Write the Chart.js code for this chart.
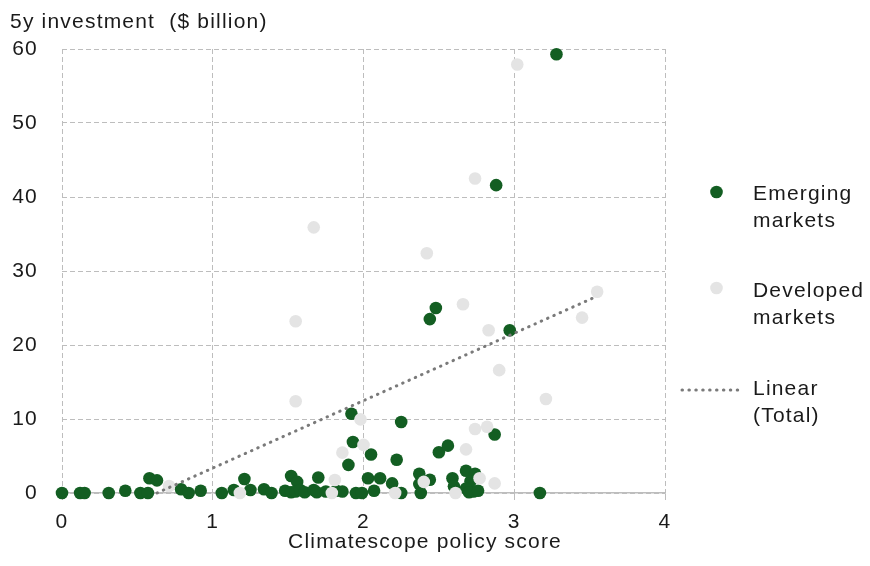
<!DOCTYPE html>
<html>
<head>
<meta charset="utf-8">
<script src="https://cdn.jsdelivr.net/npm/chart.js@4"></script>
<style>
  body { margin: 0; background: #fff; }
  #wrap { position: relative; width: 870px; height: 566px; }
</style>
</head>
<body>
<div id="wrap"><canvas id="chart" width="870" height="566"></canvas></div>
<script>
// values
const emergingX = [0.00, 0.12, 0.15, 0.31, 0.42, 0.52, 0.57, 0.58, 0.63, 0.79, 0.84, 0.92, 1.06, 1.14, 1.21, 1.25, 1.34, 1.39, 1.48, 1.52,
  1.52, 1.56, 1.55, 1.58, 1.61, 1.67, 1.70, 1.69, 1.75, 1.82, 1.86, 1.90, 1.93, 1.92, 1.95, 1.99, 2.03, 2.05, 2.07, 2.11,
  2.19, 2.22, 2.25, 2.25, 2.37, 2.37, 2.38, 2.44, 2.50, 2.56, 2.59, 2.60, 2.68, 2.74, 2.71, 2.73, 2.68, 2.70, 2.76, 2.87,
  3.17, 2.44, 2.48, 2.97, 2.88, 3.28]
const emergingY = [0, 0, 0, 0, 0.3, 0, 0, 2.0, 1.7, 0.5, 0, 0.3, 0, 0.4, 1.9, 0.4, 0.5, 0, 0.3, 2.3,
  0.1, 1.5, 0.2, 0.4, 0.1, 0.4, 2.1, 0.1, 0.2, 0.3, 0.2, 3.8, 6.9, 10.7, 0, 0, 2.0, 5.2, 0.3, 2.0,
  1.3, 4.5, 9.6, 0, 2.6, 1.2, 0, 1.8, 5.5, 6.4, 2.0, 0.9, 3.0, 2.6, 1.6, 0.2, 0.6, 0.1, 0.3, 7.9,
  0, 23.5, 25.0, 22.0, 41.6, 59.3]

const developedX = [0.71, 1.18, 1.55, 1.55, 1.67, 1.79, 1.81, 1.86, 1.98, 2.00, 2.21, 2.40, 2.42, 2.61, 2.66, 2.68, 2.74, 2.74,
  2.77, 2.82, 2.83, 2.87, 2.90, 3.02, 3.21, 3.45, 3.55]
const developedY = [0.95, 0, 23.2, 12.4, 35.9, 0, 1.75, 5.45, 9.95, 6.5, 0, 1.5, 32.4, 0, 25.5, 5.9, 42.5, 8.65,
  2.0, 8.96, 22.0, 1.3, 16.6, 57.9, 12.7, 23.7, 27.2]

// linear trend (Total), clipped at the x axis
const trendX = [0.63, 3.55]
const trendY = [0, 26.6]

const seriesNames = ['Emerging markets', 'Developed markets', 'Linear (Total)']
const legendLines = [['Emerging', 'markets'], ['Developed', 'markets'], ['Linear', '(Total)']]

const green = '#135e22'
const grey = '#e4e4e4'
const trendColor = '#7a7a7a'
const gridColor = '#bdbdbd'
const textColor = '#1a1a1a'
const fontFamily = '"Liberation Sans", Arial, sans-serif'
const spacing = '1.2px'

const toPoints = (xs, ys) => xs.map((x, i) => ({ x: x, y: ys[i] }))

Chart.defaults.font.family = fontFamily
Chart.defaults.font.size = 21
Chart.defaults.color = textColor

const spacingPlugin = {
  id: 'spacing',
  beforeDraw(chart) {
    chart.ctx.letterSpacing = spacing
  }
}

const textPlugin = {
  id: 'sideText',
  afterDraw(chart) {
    const ctx = chart.ctx
    ctx.save()
    ctx.letterSpacing = spacing
    ctx.font = '21px ' + fontFamily
    ctx.fillStyle = textColor
    ctx.textBaseline = 'alphabetic'
    ctx.textAlign = 'left'
    ctx.fillText('5y investment  ($ billion)', 10, 28)
    ctx.textAlign = 'center'
    ctx.fillText('Climatescope policy score', 425, 548)

    // legend on the right
    const rows = [200, 297, 395]
    const marks = [192, 288, 390]
    ctx.textAlign = 'left'
    legendLines.forEach((lines, i) => {
      lines.forEach((t, j) => ctx.fillText(t, 753, rows[i] + j * 27))
    })
    ctx.beginPath()
    ctx.arc(716.5, marks[0], 6.3, 0, Math.PI * 2)
    ctx.fillStyle = green
    ctx.fill()
    ctx.beginPath()
    ctx.arc(716.5, marks[1], 6.3, 0, Math.PI * 2)
    ctx.fillStyle = grey
    ctx.fill()
    ctx.beginPath()
    ctx.moveTo(682, marks[2])
    ctx.lineTo(744, marks[2])
    ctx.strokeStyle = trendColor
    ctx.lineWidth = 3
    ctx.lineCap = 'round'
    ctx.setLineDash([0.5, 6.4])
    ctx.stroke()
    ctx.restore()
  }
}

const ctx = document.getElementById('chart').getContext('2d')
let chart = new Chart(ctx, {
  type: 'scatter',
  data: {
    datasets: [
      {
        label: seriesNames[2],
        type: 'line',
        data: toPoints(trendX, trendY),
        borderColor: trendColor,
        borderWidth: 3,
        borderDash: [0.5, 6.4],
        borderCapStyle: 'round',
        pointRadius: 0,
        fill: false,
        clip: false,
        order: 0
      },
      {
        label: seriesNames[1],
        data: toPoints(developedX, developedY),
        backgroundColor: grey,
        borderWidth: 0,
        pointRadius: 6.3,
        clip: false,
        order: 1
      },
      {
        label: seriesNames[0],
        data: toPoints(emergingX, emergingY),
        backgroundColor: green,
        borderWidth: 0,
        pointRadius: 6.3,
        clip: false,
        order: 2
      }
    ]
  },
  options: {
    responsive: false,
    animation: false,
    layout: { padding: { left: 0, right: 205, top: 49, bottom: 0 } },
    plugins: {
      legend: { display: false },
      tooltip: { enabled: false }
    },
    scales: {
      x: {
        type: 'linear',
        min: 0,
        max: 4,
        ticks: { stepSize: 1, padding: 10, color: textColor },
        grid: {
          color: gridColor,
          tickBorderDash: [],
          tickColor: gridColor,
          tickLength: 7,
          drawTicks: true
        },
        border: { display: true, color: gridColor, width: 1.5, dash: [5, 3] },
        afterFit(axis) { axis.height = 73 }
      },
      y: {
        min: 0,
        max: 60,
        ticks: { stepSize: 10, padding: 24, color: textColor },
        grid: { color: gridColor, drawTicks: false },
        border: { display: false, dash: [5, 3] },
        afterFit(axis) { axis.width = 62 }
      }
    }
  },
  plugins: [spacingPlugin, textPlugin]
})
</script>
</body>
</html>
